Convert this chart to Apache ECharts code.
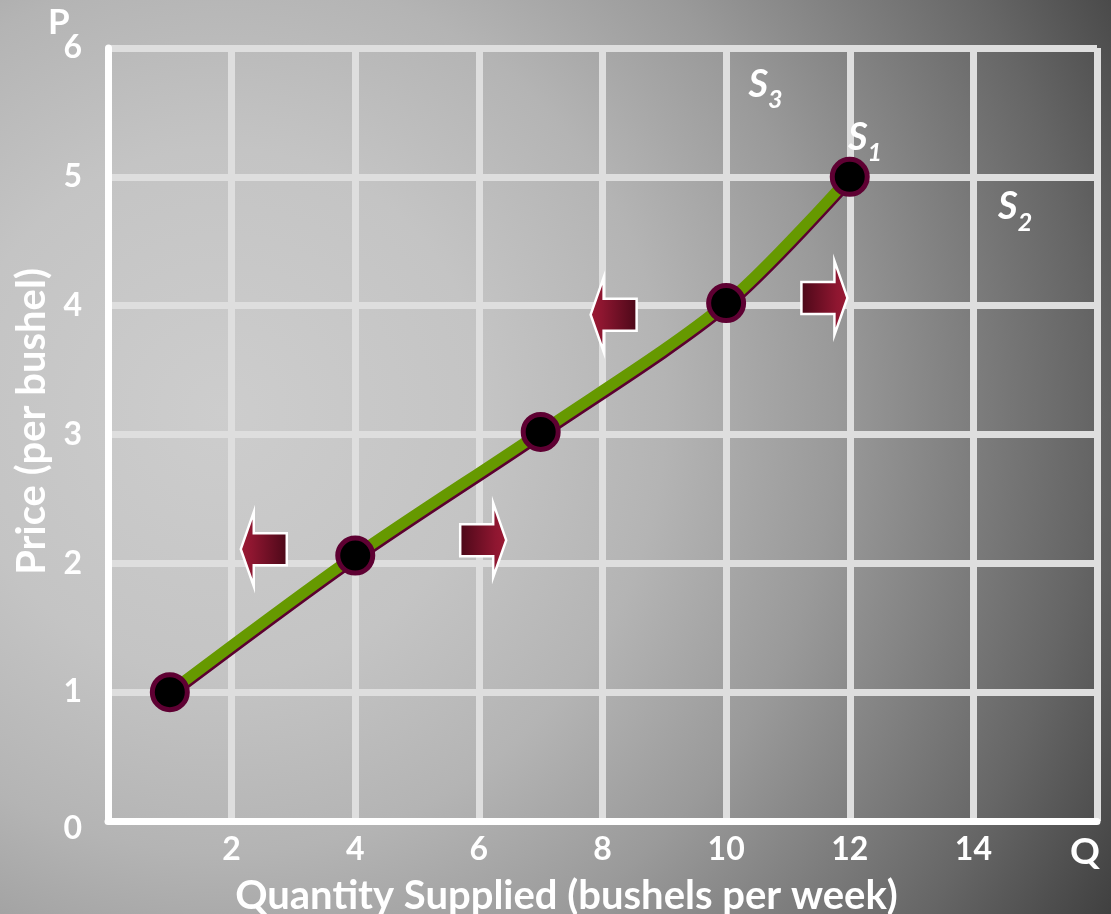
<!DOCTYPE html>
<html>
<head>
<meta charset="utf-8">
<script src="https://cdn.jsdelivr.net/npm/echarts@6/dist/echarts.min.js"></script>
<style>
html,body{margin:0;padding:0;}
body{width:1111px;height:914px;overflow:hidden;
background: radial-gradient(ellipse 95% 115% at 20% 45%, #cdcdcd 0%, #c4c4c4 25%, #b4b4b4 42%, #9a9a9a 58%, #666666 82%, #383838 100%);}
#chart{width:1111px;height:914px;}
</style>
</head>
<body>
<div id="chart"></div>
<script>
// ---- data ----
const quantity = [1, 4, 7, 10, 12];
const price = [1.0, 2.06, 3.02, 4.02, 5.0];
const xTicks = [0, 2, 4, 6, 8, 10, 12, 14, 16];
const yTicks = [0, 1, 2, 3, 4, 5, 6];
// shift arrows: [quantity, price, direction(-1 left, 1 right)]
const arrowX = [2.52, 6.07, 8.18, 11.59];
const arrowY = [2.11, 2.18, 3.93, 4.06];
const arrowDir = [-1, 1, -1, 1];
// curve labels
const labelNames = ['3', '1', '2'];
const labelX = [10.36, 11.97, 14.40];
const labelY = [5.68, 5.27, 4.73];

const FONT = 'Lato';
const chart = echarts.init(document.getElementById('chart'));

const arrowData = arrowX.map((x, i) => [x, arrowY[i], arrowDir[i]]);
const labelData = labelX.map((x, i) => ({ value: [x, labelY[i]], name: labelNames[i] }));

const option = {
  backgroundColor: 'transparent',
  animation: false,
  title: {
    text: 'P', left: 43, top: 0,
    textStyle: { color: '#fff', fontSize: 35, fontWeight: 'bold', fontFamily: FONT }
  },
  grid: { left: 108, right: 14, top: 48, bottom: 93, containLabel: false, outerBoundsMode: 'none' },
  xAxis: {
    type: 'value', min: 0, max: 16, interval: 2,
    name: 'Quantity Supplied (bushels per week)',
    nameLocation: 'middle', nameGap: 51,
    nameTextStyle: { color: '#fff', fontSize: 40, fontWeight: 'bold', fontFamily: FONT, padding: [0, 72, 0, 0] },
    axisLine: { show: true, onZero: false, lineStyle: { color: '#fff', width: 7 } },
    axisTick: { show: false },
    splitLine: { show: true, lineStyle: { color: '#dedede', width: 7 } },
    axisLabel: {
      show: true, showMinLabel: true, showMaxLabel: true, margin: 13,
      color: '#fff', fontSize: 32, fontWeight: 'bold', fontFamily: FONT,
      formatter: function (v) {
        if (v === 0) return '';
        if (v === 16) return '{q|Q}';
        return String(v);
      },
      rich: { q: { color: '#fff', fontSize: 37, fontWeight: 'bold', fontFamily: FONT, padding: [0, 24, 0, 0] } }
    }
  },
  yAxis: {
    type: 'value', min: 0, max: 6, interval: 1,
    name: 'Price (per bushel)',
    nameLocation: 'middle', nameGap: 55, nameRotate: 90,
    nameTextStyle: { color: '#fff', fontSize: 40, fontWeight: 'bold', fontFamily: FONT, padding: [0, 0, 0, 26] },
    axisLine: { show: true, onZero: false, lineStyle: { color: '#fff', width: 7 } },
    axisTick: { show: false },
    splitLine: { show: true, lineStyle: { color: '#dedede', width: 7 } },
    axisLabel: {
      show: true, margin: 26,
      color: '#fff', fontSize: 32, fontWeight: 'bold', fontFamily: FONT,
      formatter: function (v) { return v === 0 ? '{z|0}' : String(v); },
      rich: { z: { color: '#fff', fontSize: 32, fontWeight: 'bold', fontFamily: FONT, padding: [16, 0, 0, 0] } }
    }
  },
  series: [
    {
      name: 'S1', type: 'line', smooth: 0.3,
      data: quantity.map((q, i) => [q, price[i]]),
      symbol: 'circle', symbolSize: 35,
      lineStyle: { color: '#669900', width: 11, shadowColor: '#5c0030', shadowBlur: 0, shadowOffsetX: 1, shadowOffsetY: 2.5 },
      itemStyle: { color: '#000', borderColor: '#5e0032', borderWidth: 5 },
      z: 5
    },
    {
      type: 'custom',
      data: arrowData,
      z: 6,
      renderItem: function (params, api) {
        const c = api.coord([api.value(0), api.value(1)]);
        const d = api.value(2);
        const cx = c[0], cy = c[1];
        const L = 23, hb = 10, sh = 16, hh = 37;
        const pts = [
          [-L, -sh], [hb, -sh], [hb, -hh], [L, 0], [hb, hh], [hb, sh], [-L, sh]
        ].map(p => [cx + d * p[0], cy + p[1]]);
        const stops = d > 0
          ? [{ offset: 0, color: '#4a0818' }, { offset: 0.75, color: '#8e1630' }, { offset: 1, color: '#9c1a34' }]
          : [{ offset: 0, color: '#9c1a34' }, { offset: 0.25, color: '#8e1630' }, { offset: 1, color: '#4a0818' }];
        return {
          type: 'polygon',
          shape: { points: pts },
          style: {
            fill: new echarts.graphic.LinearGradient(0, 0, 1, 0, stops),
            stroke: '#ffffff', lineWidth: 2.5
          }
        };
      }
    },
    {
      type: 'scatter',
      data: labelData,
      symbolSize: 0,
      z: 7,
      silent: true,
      label: {
        show: true, position: 'right', distance: 0, opacity: 1,
        formatter: function (p) { return '{s|S}{sub|' + p.name + '}'; },
        rich: {
          s: { color: '#ffffff', fontSize: 38, fontWeight: 'bold', fontStyle: 'italic', fontFamily: FONT, verticalAlign: 'bottom', padding: [0, 0, 9, 0], textBorderWidth: 0 },
          sub: { color: '#ffffff', fontSize: 25, fontWeight: 'bold', fontStyle: 'italic', fontFamily: FONT, verticalAlign: 'bottom', textBorderWidth: 0 }
        }
      }
    }
  ]
};
chart.setOption(option);
</script>
</body>
</html>
